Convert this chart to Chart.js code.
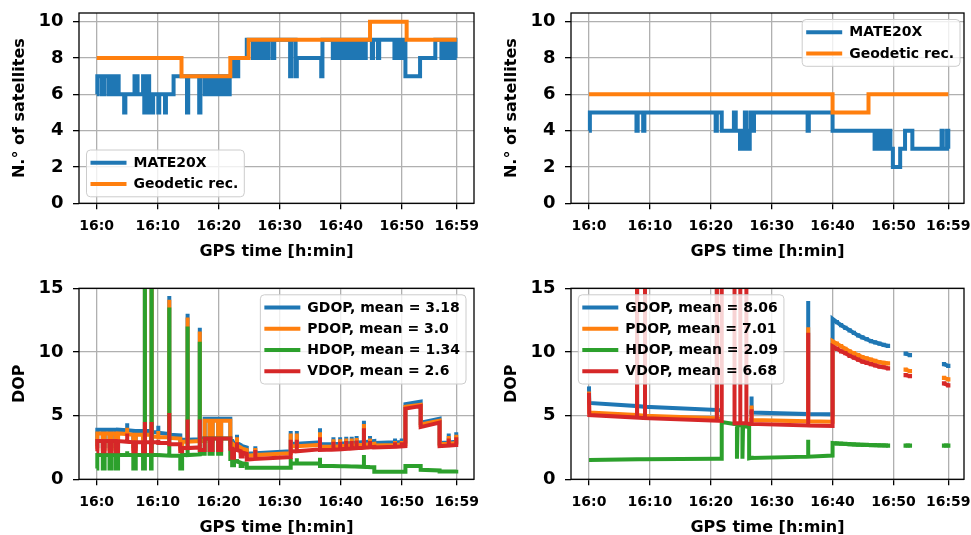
<!DOCTYPE html>
<html>
<head>
<meta charset="utf-8">
<title>Satellites and DOP</title>
<script src="https://cdn.jsdelivr.net/npm/chart.js@4.4.1/dist/chart.umd.min.js"></script>
<style>
  html, body { margin: 0; padding: 0; background: #fff; overflow: hidden; }
  #page { position: relative; width: 971px; height: 535px; overflow: hidden; }
  .box { position: absolute; }
</style>
</head>
<body>
<div id="page">
  <div class="box" style="left:0;top:0;width:485px;height:267px"><canvas id="satA"></canvas></div>
  <div class="box" style="left:485px;top:0;width:486px;height:267px"><canvas id="satB"></canvas></div>
  <div class="box" style="left:0;top:267px;width:485px;height:276px"><canvas id="dopA"></canvas></div>
  <div class="box" style="left:485px;top:267px;width:486px;height:276px"><canvas id="dopB"></canvas></div>
</div>
<script>
// ticks (minutes after 16:00)
var xTickMinutes = [0, 10, 20, 30, 40, 50, 59];
var satTicks = [0, 2, 4, 6, 8, 10];
var dopTicks = [0, 5, 10, 15];

var satLabels = ['MATE20X', 'Geodetic rec.'];
var dopLabelsA = ['GDOP, mean = 3.18', 'PDOP, mean = 3.0', 'HDOP, mean = 1.34', 'VDOP, mean = 2.6'];
var dopLabelsB = ['GDOP, mean = 8.06', 'PDOP, mean = 7.01', 'HDOP, mean = 2.09', 'VDOP, mean = 6.68'];

// left column: number of satellites (value holds from its time to the next one)
var mateTimeA = [0, 0.1, 0.8, 1.2, 1.9, 2.2, 2.8, 3.2, 3.6, 4.5,
  4.7, 6.2, 6.7, 7.6, 7.8, 7.95, 8.4, 8.6, 8.75, 9.1,
  9.25, 10.1, 10.25, 11.2, 11.35, 12.6, 14.8, 15.0, 16.8, 17.0,
  17.7, 17.9, 18.4, 18.6, 19.0, 19.3, 19.8, 20.1, 20.6, 21.0,
  21.4, 21.8, 22.4, 23.0, 23.2, 24.6, 25.6, 25.8, 26.4, 26.6,
  27.2, 27.4, 28.0, 28.2, 28.9, 29.1, 31.7, 31.9, 32.6, 32.8,
  36.8, 37.0, 38.7, 38.9, 39.5, 39.7, 40.3, 40.5, 41.0, 41.2,
  41.7, 41.9, 42.4, 42.6, 43.1, 43.3, 43.9, 44.1, 45.1, 45.3,
  46.1, 46.3, 48.8, 49.0, 49.5, 49.7, 50.0, 50.2, 50.6, 53.0,
  55.5, 56.5, 56.7, 57.3, 57.5, 58.1, 58.3, 58.8, 59];
var mateSatsA = [6, 7, 6, 7, 6, 7, 6, 7, 6, 5,
  6, 7, 6, 7, 5, 6, 7, 5, 6, 5,
  6, 5, 6, 5, 6, 7, 5, 7, 5, 7,
  6, 7, 6, 7, 6, 7, 6, 7, 6, 7,
  6, 7, 8, 7, 8, 9, 8, 9, 8, 9,
  8, 9, 8, 9, 8, 9, 7, 9, 7, 8,
  7, 9, 8, 9, 8, 9, 8, 9, 8, 9,
  8, 9, 8, 9, 8, 9, 8, 9, 8, 9,
  8, 9, 8, 9, 8, 9, 8, 9, 7, 8,
  9, 8, 9, 8, 9, 8, 9, 8, 8];
var geoTimeA = [0, 13.9, 21.9, 24.9, 44.8, 50.8, 59];
var geoSatsA = [8, 7, 8, 9, 10, 9, 9];

// right column: number of satellites
var mateTimeB = [0, 0.15, 7.8, 8.0, 8.9, 9.1, 20.8, 21.0, 21.8, 23.8,
  24.1, 24.8, 25.3, 25.6, 25.9, 26.4, 26.6, 26.9, 27.1, 35.9,
  36.1, 40.0, 46.9, 47.1, 47.7, 47.9, 48.4, 48.6, 49.1, 49.3,
  49.5, 49.9, 51.1, 51.9, 53.1, 57.9, 58.1, 58.8, 59];
var mateSatsB = [4, 5, 4, 5, 4, 5, 4, 5, 4, 5,
  4, 3, 4, 5, 3, 4, 5, 4, 5, 4,
  5, 4, 3, 4, 3, 4, 3, 4, 3, 4,
  3, 2, 3, 4, 3, 4, 3, 4, 3];
var geoTimeB = [0, 40, 45.9, 59];
var geoSatsB = [6, 5, 6, 6];

// left column: DOP
var dopTimeA = [0, 0.1, 0.1, 1.0, 1.0, 1.3, 1.3, 2.1, 2.1, 2.4,
  2.4, 3.1, 3.1, 3.5, 3.5, 5.0, 5.0, 5.0, 6.0, 6.0,
  6.4, 6.4, 7.6, 7.6, 7.9, 7.9, 7.9, 8.9, 8.9, 9.0,
  9.0, 9.0, 10.1, 10.1, 10.1, 11.9, 11.9, 11.9, 13.7, 13.7,
  14.0, 14.0, 14.9, 14.9, 14.9, 16.9, 16.9, 16.9, 17.7, 17.7,
  18.5, 18.5, 19.0, 19.0, 19.9, 19.9, 20.4, 20.4, 21.9, 21.9,
  22.2, 22.2, 22.5, 22.5, 23.0, 23.0, 23.0, 23.6, 23.6, 23.9,
  23.9, 24.6, 24.6, 26.0, 26.0, 26.0, 31.8, 31.8, 31.8, 32.8,
  32.8, 32.8, 36.6, 36.6, 36.6, 38.8, 38.8, 38.8, 39.9, 39.9,
  39.9, 40.9, 40.9, 40.9, 41.8, 41.8, 41.8, 42.6, 42.6, 42.6,
  43.8, 43.8, 43.8, 44.8, 44.8, 44.8, 45.5, 45.5, 48.9, 48.9,
  48.9, 50.0, 50.0, 50.0, 50.6, 50.6, 53.1, 53.1, 56.2, 56.2,
  57.7, 57.7, 57.7, 58.9, 58.9, 58.9, 59.0];
var gdopA = [2.6, 2.6, 3.9, 3.9, 2.6, 2.6, 3.9, 3.9, 2.6, 2.6,
  3.9, 3.9, 2.6, 2.6, 3.9, 3.85, 4.4, 3.85, 3.8, 2.6,
  2.6, 3.8, 3.8, 2.6, 2.6, 32, 3.8, 3.8, 2.6, 2.6,
  32, 3.7, 3.7, 4.2, 3.65, 3.55, 14.4, 3.5, 3.45, 2.6,
  2.6, 3.1, 3.1, 13.0, 3.1, 3.15, 11.9, 3.2, 3.2, 4.75,
  4.75, 3.2, 3.2, 4.75, 4.75, 3.2, 3.2, 4.75, 4.75, 3.0,
  3.0, 2.2, 2.2, 2.9, 2.85, 3.5, 2.85, 2.7, 2.3, 2.3,
  2.6, 2.5, 2.0, 2.05, 2.6, 2.05, 2.2, 3.8, 2.8, 2.8,
  3.8, 2.8, 2.9, 4.0, 2.75, 2.78, 3.3, 2.78, 2.8, 3.3,
  2.8, 2.83, 3.35, 2.83, 2.86, 3.35, 2.86, 2.88, 3.4, 2.88,
  2.92, 4.6, 2.92, 2.96, 3.4, 2.96, 3.0, 2.85, 2.9, 3.2,
  2.9, 2.93, 3.2, 2.93, 2.95, 5.9, 6.1, 4.45, 4.75, 2.85,
  2.9, 3.6, 2.9, 2.95, 3.6, 2.95, 3.7];
var pdopA = [2.4, 2.4, 3.6, 3.6, 2.4, 2.4, 3.6, 3.6, 2.4, 2.4,
  3.6, 3.6, 2.4, 2.4, 3.6, 3.55, 4.05, 3.55, 3.5, 2.4,
  2.4, 3.5, 3.5, 2.4, 2.4, 31, 3.5, 3.5, 2.4, 2.4,
  31, 3.35, 3.35, 3.8, 3.3, 3.3, 14.1, 3.25, 3.2, 2.4,
  2.4, 2.95, 2.95, 12.7, 2.95, 3.0, 11.6, 3.0, 3.0, 4.6,
  4.6, 3.0, 3.0, 4.6, 4.6, 3.0, 3.0, 4.6, 4.6, 2.8,
  2.8, 2.05, 2.05, 2.7, 2.65, 3.3, 2.65, 2.5, 2.1, 2.1,
  2.4, 2.3, 1.85, 1.9, 2.45, 1.9, 2.05, 3.6, 2.6, 2.6,
  3.6, 2.6, 2.7, 3.7, 2.55, 2.58, 3.15, 2.58, 2.6, 3.15,
  2.6, 2.63, 3.2, 2.63, 2.66, 3.2, 2.66, 2.68, 3.25, 2.68,
  2.72, 4.35, 2.72, 2.76, 3.2, 2.76, 2.8, 2.65, 2.7, 3.0,
  2.7, 2.73, 3.0, 2.73, 2.75, 5.7, 5.85, 4.3, 4.6, 2.75,
  2.8, 3.4, 2.8, 2.85, 3.4, 2.85, 3.5];
var hdopA = [0.85, 0.85, 1.9, 1.9, 0.85, 0.85, 1.9, 1.9, 0.85, 0.85,
  1.9, 1.9, 0.85, 0.85, 1.9, 1.9, 2.2, 1.9, 1.9, 0.85,
  0.85, 1.9, 1.9, 0.85, 0.85, 30, 1.9, 1.9, 0.85, 0.85,
  30, 1.9, 1.9, 1.95, 1.9, 1.85, 13.5, 1.85, 1.85, 0.85,
  0.85, 1.9, 1.9, 12.0, 1.9, 1.95, 10.8, 2.0, 2.0, 3.2,
  3.2, 2.0, 2.0, 3.2, 3.2, 2.0, 2.0, 3.2, 3.2, 1.6,
  1.6, 1.1, 1.1, 1.45, 1.4, 1.6, 1.4, 1.3, 1.05, 1.05,
  1.25, 1.2, 0.9, 0.9, 1.0, 0.9, 0.9, 1.65, 1.25, 1.25,
  1.65, 1.25, 1.25, 1.7, 1.05, 1.04, 1.05, 1.04, 1.03, 1.05,
  1.03, 1.02, 1.05, 1.02, 1.01, 1.05, 1.01, 1.0, 1.05, 1.0,
  0.98, 1.9, 0.98, 0.96, 1.1, 0.96, 0.95, 0.6, 0.6, 0.75,
  0.6, 0.6, 0.75, 0.6, 0.6, 1.05, 1.05, 0.75, 0.7, 0.62,
  0.62, 0.75, 0.62, 0.62, 0.75, 0.62, 0.75];
var vdopA = [2.2, 2.2, 3.0, 3.0, 2.2, 2.2, 3.0, 3.0, 2.2, 2.2,
  3.0, 3.0, 2.2, 2.2, 3.0, 2.95, 3.6, 2.95, 2.9, 2.2,
  2.2, 2.9, 2.9, 2.2, 2.2, 4.5, 2.9, 2.9, 2.2, 2.2,
  4.5, 2.9, 2.9, 3.1, 2.85, 2.85, 5.2, 2.75, 2.75, 2.2,
  2.2, 2.45, 2.45, 4.7, 2.45, 2.5, 4.7, 2.3, 2.3, 3.2,
  3.2, 2.3, 2.3, 3.2, 3.2, 2.3, 2.3, 3.2, 3.2, 2.4,
  2.4, 1.7, 1.7, 2.35, 2.3, 2.9, 2.3, 2.2, 1.8, 1.8,
  2.1, 2.0, 1.55, 1.6, 2.3, 1.6, 1.75, 3.1, 2.2, 2.2,
  3.1, 2.2, 2.35, 3.3, 2.3, 2.33, 2.95, 2.33, 2.36, 2.95,
  2.36, 2.39, 3.0, 2.39, 2.42, 3.0, 2.42, 2.45, 3.05, 2.45,
  2.48, 4.0, 2.48, 2.52, 3.0, 2.52, 2.55, 2.5, 2.55, 2.9,
  2.55, 2.58, 2.9, 2.58, 2.6, 5.55, 5.75, 4.1, 4.45, 2.6,
  2.65, 3.2, 2.65, 2.7, 3.2, 2.7, 3.3];

// right column: DOP (null = no fix)
var dopTimeB = [0, 0.05, 7.9, 7.9, 7.9, 9.2, 9.2, 9.2, 21.0, 21.0,
  21.0, 21.8, 21.8, 23.9, 23.9, 24.3, 24.3, 24.4, 24.85, 24.85,
  24.85, 25.2, 25.2, 25.3, 25.85, 25.85, 25.85, 26.3, 26.3, 26.7,
  26.7, 26.7, 36.0, 36.0, 36.0, 40.0, 40.0, 40.7, 41.4, 42.1,
  42.8, 43.5, 44.2, 44.9, 45.6, 46.3, 47.0, 47.7, 48.4, 49.1,
  50.5, 52.0, 52.7, 55.5, 58.3, 59.0];
var gdopB = [7.3, 6.0, 5.75, 40, 5.75, 5.7, 40, 5.7, 5.45, 40,
  5.45, 5.42, null, null, null, null, null, null, null, null,
  null, null, null, null, null, null, null, null, 5.25, 5.25,
  6.5, 5.25, 5.12, 14.0, 5.12, 5.1, 12.6, 12.35, 12.1, 11.9,
  11.7, 11.5, 11.3, 11.15, 11.0, 10.85, 10.75, 10.65, 10.55, 10.47,
  null, 9.87, 9.75, null, 9.05, 8.9];
var pdopB = [6.9, 5.25, 5.05, 40, 5.05, 5.0, 40, 5.0, 4.8, 40,
  4.8, 4.78, null, null, null, null, null, null, null, null,
  null, null, null, null, null, null, null, null, 4.65, 4.65,
  5.8, 4.65, 4.55, 11.95, 4.55, 4.52, 10.85, 10.65, 10.45, 10.25,
  10.05, 9.9, 9.75, 9.6, 9.5, 9.4, 9.3, 9.2, 9.15, 9.1,
  null, 8.62, 8.5, null, 7.97, 7.85];
var hdopB = [1.52, 1.52, 1.58, 1.72, 1.58, 1.58, 1.72, 1.58, 1.62, 1.62,
  1.62, 1.62, 4.5, 4.35, 4.35, 4.3, 1.62, 4.3, 4.25, 4.25,
  4.25, 4.2, 1.62, 4.2, 4.15, 4.15, 4.15, 4.1, 1.65, 1.68,
  1.85, 1.68, 1.78, 3.1, 1.78, 1.86, 2.85, 2.82, 2.8, 2.78,
  2.76, 2.74, 2.72, 2.71, 2.7, 2.69, 2.68, 2.67, 2.66, 2.65,
  null, 2.65, 2.65, null, 2.65, 2.65];
var vdopB = [6.8, 5.05, 4.85, 40, 4.85, 4.8, 40, 4.8, 4.6, 40,
  4.6, 4.58, 40, 40, 4.4, 4.4, 4.4, 4.4, 4.4, 40,
  4.4, 4.4, 4.4, 4.4, 4.4, 40, 4.4, 4.35, 4.35, 4.35,
  5.5, 4.35, 4.22, 11.5, 4.22, 4.18, 10.45, 10.25, 10.05, 9.9,
  9.7, 9.55, 9.4, 9.25, 9.15, 9.05, 8.95, 8.85, 8.8, 8.72,
  null, 8.18, 8.1, null, 7.53, 7.38];

var COLORS = ['#1f77b4', '#ff7f0e', '#2ca02c', '#d62728'];
var FONT = '"DejaVu Sans", sans-serif';

function xy(times, values) {
  return times.map(function (t, i) { return { x: t, y: values[i] }; });
}

// order: higher numbers are painted first, so the last series ends up on top
function lineSet(label, color, data, order, extra) {
  return Object.assign({
    label: label, data: data, order: order, borderColor: color, backgroundColor: color,
    borderWidth: 4, pointRadius: 0, pointHoverRadius: 0, pointBorderWidth: 0,
    pointStyle: 'rect', fill: false, tension: 0, clip: 0, spanGaps: false,
    borderJoinStyle: 'miter', borderCapStyle: 'butt'
  }, extra || {});
}

// black frame on all four sides + matplotlib-like legend box inside the axes
var frameAndLegend = {
  id: 'frameAndLegend',
  afterDatasetsDraw: function (chart) {
    var a = chart.chartArea, ctx = chart.ctx;
    ctx.save();
    ctx.strokeStyle = '#000';
    ctx.lineWidth = 1.3;
    ctx.strokeRect(a.left, a.top, a.right - a.left, a.bottom - a.top);
    ctx.restore();
  },
  afterDraw: function (chart, args, o) {
    var a = chart.chartArea, ctx = chart.ctx;
    var items = chart.data.datasets.map(function (d) { return { label: d.label, color: d.borderColor }; });
    ctx.save();
    ctx.font = 'bold 14px ' + FONT;
    var tw = Math.max.apply(null, items.map(function (it) { return ctx.measureText(it.label).width; }));
    var w = 4 + 36 + 7 + tw + 6;
    var n = items.length;
    var h = 2 * 5.8 + n * 14 + (n - 1) * 7.2;
    var x = o.loc.indexOf('left') >= 0 ? a.left + o.padX : a.right - o.padX - w;
    var y = o.loc.indexOf('upper') >= 0 ? a.top + o.padY : a.bottom - o.padY - h;
    ctx.beginPath();
    ctx.roundRect(x, y, w, h, 4);
    ctx.fillStyle = 'rgba(255,255,255,0.8)';
    ctx.fill();
    ctx.strokeStyle = '#cccccc';
    ctx.lineWidth = 1;
    ctx.stroke();
    items.forEach(function (it, i) {
      var cy = y + 5.8 + 7 + i * 21.2;
      ctx.strokeStyle = it.color;
      ctx.lineWidth = 4;
      ctx.beginPath();
      ctx.moveTo(x + 4, cy);
      ctx.lineTo(x + 40, cy);
      ctx.stroke();
      ctx.fillStyle = '#000';
      ctx.textAlign = 'left';
      ctx.textBaseline = 'middle';
      ctx.fillText(it.label, x + 47, cy + 0.5);
    });
    ctx.restore();
  }
};

function makeChart(id, datasets, cfg) {
  var tickFont = { family: FONT, size: 14, weight: 'bold' };
  var titleFont = { family: FONT, size: 16, weight: 'bold' };
  var grid = { color: '#b0b0b0', lineWidth: 1.3, tickColor: '#000', tickLength: 6, tickWidth: 1.3 };
  return new Chart(document.getElementById(id), {
    type: 'line',
    data: { datasets: datasets },
    options: {
      responsive: true, maintainAspectRatio: false, animation: false, events: [],
      layout: { padding: { left: 0, top: cfg.padTop, right: cfg.padRight, bottom: 0 } },
      plugins: {
        legend: { display: false },
        tooltip: { enabled: false },
        frameAndLegend: { loc: cfg.legendLoc, padX: cfg.legendPadX, padY: 6.5 }
      },
      scales: {
        x: {
          type: 'linear', min: cfg.xMin, max: cfg.xMax,
          afterBuildTicks: function (s) { s.ticks = xTickMinutes.map(function (v) { return { value: v }; }); },
          afterFit: function (s) { s.height = 63.7; s.paddingLeft = 0; s.paddingRight = 0; },
          ticks: { autoSkip: false, maxRotation: 0, padding: 9, color: '#000', font: tickFont,
            callback: function (v) { return '16:' + v; } },
          grid: grid,
          border: { display: false },
          title: { display: true, text: 'GPS time [h:min]', color: '#000', font: titleFont, padding: { top: 0, bottom: 5.2 } }
        },
        y: {
          type: 'linear', min: 0, max: cfg.yMax,
          afterBuildTicks: function (s) { s.ticks = cfg.yTicks.map(function (v) { return { value: v }; }); },
          afterFit: function (s) { s.width = cfg.yWidth; s.paddingTop = 0; s.paddingBottom = 0; },
          ticks: { padding: 9.5, color: '#000', font: { family: FONT, size: 18, weight: 'bold' } },
          grid: grid,
          border: { display: false },
          title: { display: true, text: cfg.yTitle, color: '#000', font: titleFont, padding: { top: cfg.yTitlePad, bottom: 0 } }
        }
      }
    },
    plugins: [frameAndLegend]
  });
}

var markerAfter40 = function (c) { return c.raw && c.raw.x >= 40.5 ? 3 : 0; };

makeChart('satA', [
  lineSet(satLabels[0], COLORS[0], xy(mateTimeA, mateSatsA), 2, { stepped: true }),
  lineSet(satLabels[1], COLORS[1], xy(geoTimeA, geoSatsA), 1, { stepped: true })
], { xMin: -2.9, xMax: 61.84, yMax: 10.48, yTicks: satTicks, yTitle: 'N.° of satellites',
     yWidth: 79, yTitlePad: 9.9, padTop: 13, padRight: 11, legendLoc: 'lower left', legendPadX: 7.5 });

makeChart('satB', [
  lineSet(satLabels[0], COLORS[0], xy(mateTimeB, mateSatsB), 2, { stepped: true }),
  lineSet(satLabels[1], COLORS[1], xy(geoTimeB, geoSatsB), 1, { stepped: true })
], { xMin: -2.95, xMax: 61.58, yMax: 10.48, yTicks: satTicks, yTitle: 'N.° of satellites',
     yWidth: 86, yTitlePad: 17.2, padTop: 13, padRight: 7, legendLoc: 'upper right', legendPadX: 4 });

makeChart('dopA', [
  lineSet(dopLabelsA[0], COLORS[0], xy(dopTimeA, gdopA), 4),
  lineSet(dopLabelsA[1], COLORS[1], xy(dopTimeA, pdopA), 3),
  lineSet(dopLabelsA[2], COLORS[2], xy(dopTimeA, hdopA), 2),
  lineSet(dopLabelsA[3], COLORS[3], xy(dopTimeA, vdopA), 1)
], { xMin: -2.9, xMax: 61.84, yMax: 15, yTicks: dopTicks, yTitle: 'DOP',
     yWidth: 79, yTitlePad: 9.9, padTop: 21.3, padRight: 11, legendLoc: 'upper right', legendPadX: 8 });

makeChart('dopB', [
  lineSet(dopLabelsB[0], COLORS[0], xy(dopTimeB, gdopB), 4, { pointRadius: markerAfter40 }),
  lineSet(dopLabelsB[1], COLORS[1], xy(dopTimeB, pdopB), 3, { pointRadius: markerAfter40 }),
  lineSet(dopLabelsB[2], COLORS[2], xy(dopTimeB, hdopB), 2, { pointRadius: markerAfter40 }),
  lineSet(dopLabelsB[3], COLORS[3], xy(dopTimeB, vdopB), 1, { pointRadius: markerAfter40 })
], { xMin: -2.95, xMax: 61.58, yMax: 15, yTicks: dopTicks, yTitle: 'DOP',
     yWidth: 86, yTitlePad: 17.2, padTop: 21.3, padRight: 7, legendLoc: 'upper left', legendPadX: 7.3 });
</script>
</body>
</html>
